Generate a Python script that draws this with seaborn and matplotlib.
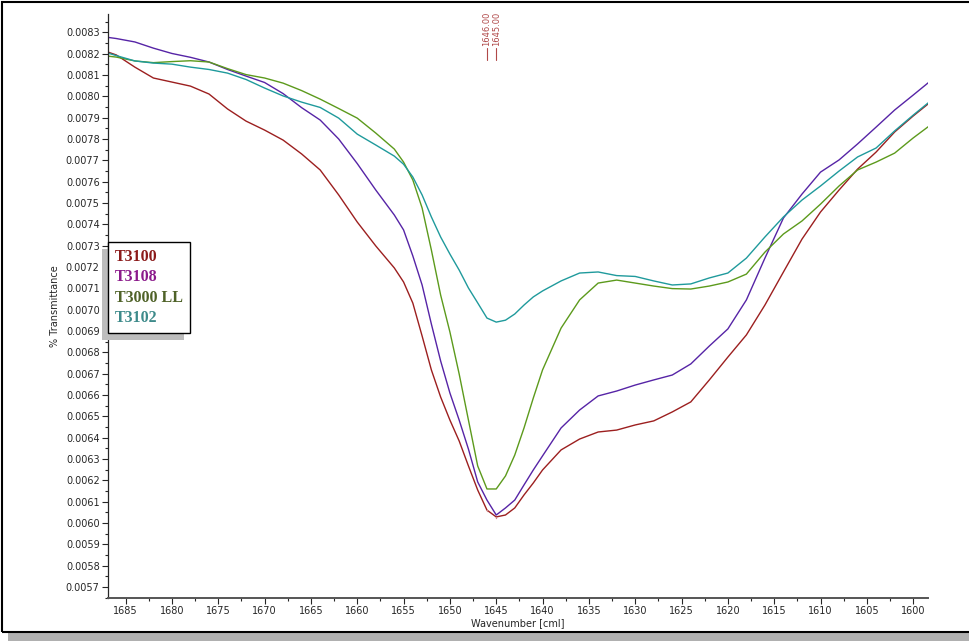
import matplotlib
matplotlib.use("Agg")
import matplotlib.pyplot as plt
from matplotlib.patches import Rectangle
from matplotlib.ticker import MultipleLocator, FormatStrFormatter
from matplotlib.lines import Line2D
import numpy as np
import pandas as pd
import seaborn as sns

# wavenumber grid (cm-1), values in 1e-4 units of % transmittance
wavenumber = [1687, 1686, 1684, 1682, 1680, 1678, 1676, 1674, 1672, 1670,
              1668, 1666, 1664, 1662, 1660, 1658, 1656, 1655, 1654, 1653,
              1652, 1651, 1650, 1649, 1648, 1647, 1646, 1645, 1644, 1643,
              1642, 1641, 1640, 1638, 1636, 1634, 1632, 1630, 1628, 1626,
              1624, 1622, 1620, 1618, 1616, 1614, 1612, 1610, 1608, 1606,
              1604, 1602, 1600, 1598]

t3100 = [82.09, 81.94, 81.37, 80.86, 80.67, 80.48, 80.11, 79.41, 78.84, 78.42,
         77.95, 77.30, 76.55, 75.38, 74.11, 72.99, 71.96, 71.30, 70.31, 68.77,
         67.18, 65.91, 64.83, 63.85, 62.68, 61.55, 60.61, 60.29, 60.38, 60.71,
         61.32, 61.88, 62.49, 63.43, 63.94, 64.27, 64.36, 64.60, 64.79, 65.21,
         65.68, 66.71, 67.78, 68.82, 70.22, 71.77, 73.31, 74.58, 75.61, 76.59,
         77.39, 78.33, 79.08, 79.78]

t3108 = [82.77, 82.71, 82.55, 82.26, 82.01, 81.83, 81.61, 81.26, 80.95, 80.65,
         80.13, 79.47, 78.89, 78.00, 76.85, 75.61, 74.44, 73.74, 72.52, 71.16,
         69.33, 67.60, 66.10, 64.83, 63.47, 61.93, 61.08, 60.38, 60.71, 61.08,
         61.79, 62.49, 63.15, 64.46, 65.30, 65.96, 66.19, 66.47, 66.71, 66.94,
         67.46, 68.30, 69.10, 70.46, 72.42, 74.30, 75.42, 76.45, 77.02, 77.77,
         78.56, 79.36, 80.06, 80.77]

t3000_ll = [81.89, 81.84, 81.66, 81.58, 81.63, 81.67, 81.61, 81.30, 81.02, 80.86,
            80.62, 80.27, 79.87, 79.43, 78.98, 78.28, 77.53, 76.92, 76.08, 74.77,
            72.80, 70.69, 68.96, 66.99, 64.83, 62.68, 61.60, 61.60, 62.21, 63.19,
            64.46, 65.86, 67.18, 69.14, 70.46, 71.25, 71.39, 71.25, 71.11, 70.99,
            70.97, 71.11, 71.30, 71.67, 72.70, 73.55, 74.16, 74.95, 75.80, 76.55,
            76.92, 77.34, 78.05, 78.70]

t3102 = [82.04, 81.91, 81.66, 81.56, 81.51, 81.37, 81.26, 81.09, 80.79, 80.39,
         80.02, 79.73, 79.48, 78.98, 78.23, 77.72, 77.20, 76.82, 76.22, 75.38,
         74.35, 73.41, 72.61, 71.86, 71.02, 70.32, 69.61, 69.42, 69.51, 69.80,
         70.22, 70.60, 70.88, 71.35, 71.72, 71.77, 71.60, 71.56, 71.35, 71.16,
         71.21, 71.49, 71.72, 72.42, 73.41, 74.35, 75.14, 75.80, 76.50, 77.16,
         77.58, 78.38, 79.12, 79.83]

names = ["T3100", "T3108", "T3000 LL", "T3102"]
line_colors = ["#9c1f1f", "#5624a6", "#5c9a1c", "#1f9a9c"]
label_colors = ["#8b1a1a", "#8b1a8b", "#4f6228", "#3d8a8a"]
peaks = [1646.0, 1645.0]

frames = []
for name, vals in zip(names, [t3100, t3108, t3000_ll, t3102]):
    frames.append(pd.DataFrame({"wavenumber": wavenumber,
                                "value": np.array(vals) * 1e-4,
                                "sample": name}))
df = pd.concat(frames, ignore_index=True)

sns.set_style("ticks")
plt.rcParams["font.family"] = ["DejaVu Sans"]

fig = plt.figure(figsize=(9.69, 6.44), dpi=100)
ax = fig.add_axes([108 / 969, 46 / 644, 820 / 969, 584 / 644])

sns.lineplot(data=df, x="wavenumber", y="value", hue="sample",
             palette=dict(zip(names, line_colors)), linewidth=1.0,
             legend=False, ax=ax, sort=False)

ax.set_xlim(1686.9, 1598.4)
ax.set_ylim(0.005649, 0.008386)
ax.xaxis.set_major_locator(MultipleLocator(5))
ax.xaxis.set_minor_locator(MultipleLocator(2.5))
ax.yaxis.set_major_locator(MultipleLocator(0.0001))
ax.yaxis.set_minor_locator(MultipleLocator(0.00005))
ax.yaxis.set_major_formatter(FormatStrFormatter("%.4f"))
ax.xaxis.set_major_formatter(FormatStrFormatter("%d"))
ax.tick_params(axis="both", which="major", labelsize=7, length=4, width=0.8,
               direction="out", pad=2)
ax.tick_params(axis="both", which="minor", length=2.5, width=0.8, direction="out")
sns.despine(ax=ax)
ax.spines["left"].set_linewidth(0.9)
ax.spines["bottom"].set_linewidth(1.4)
ax.spines["bottom"].set_color("#555555")

ax.set_xlabel("Wavenumber [cml]", fontsize=7, labelpad=1)
ax.set_ylabel("% Transmittance", fontsize=7, labelpad=4)

# peak markers
red_arr = np.array(t3100) * 1e-4
wn_arr = np.array(wavenumber)
for p in peaks:
    ax.text(p, 0.945, "%.2f" % p, rotation=90, ha="center", va="bottom",
            fontsize=6, color="#b04848",
            transform=ax.get_xaxis_transform())
    ax.plot([p, p], [0.921, 0.941], color="#b04848", lw=0.8,
            transform=ax.get_xaxis_transform())
    yv = np.interp(p, wn_arr[::-1], red_arr[::-1])
    ax.plot([p, p], [yv - 0.0000005, yv - 0.000004], color="#d08888", lw=1.0)

handles = [Line2D([], [], linestyle="none") for _ in names]
leg = ax.legend(handles, names, loc="upper left", bbox_to_anchor=(0.0, 0.61),
                borderaxespad=0, handlelength=0, handletextpad=0,
                labelcolor=label_colors, frameon=True, fancybox=False,
                edgecolor="black", framealpha=1, borderpad=0.45,
                labelspacing=0.27,
                shadow={"ox": -4.3, "oy": -5, "facecolor": "#bdbdbd",
                        "edgecolor": "none", "alpha": 1},
                prop={"family": "Liberation Serif", "weight": "bold", "size": 11.5})
leg.get_frame().set_linewidth(1.0)

# outer frame with shadow
fig.patches.append(Rectangle((8 / 969, 3 / 644), 1.0, 9 / 644,
                             transform=fig.transFigure, facecolor="#b0b0b0",
                             edgecolor="none", zorder=0))
fig.patches.append(Rectangle((1.5 / 969, 12 / 644), 1.05, 630.5 / 644,
                             transform=fig.transFigure, facecolor="none",
                             edgecolor="black", linewidth=1.5, zorder=1))

fig.savefig("out.png", dpi=100)
